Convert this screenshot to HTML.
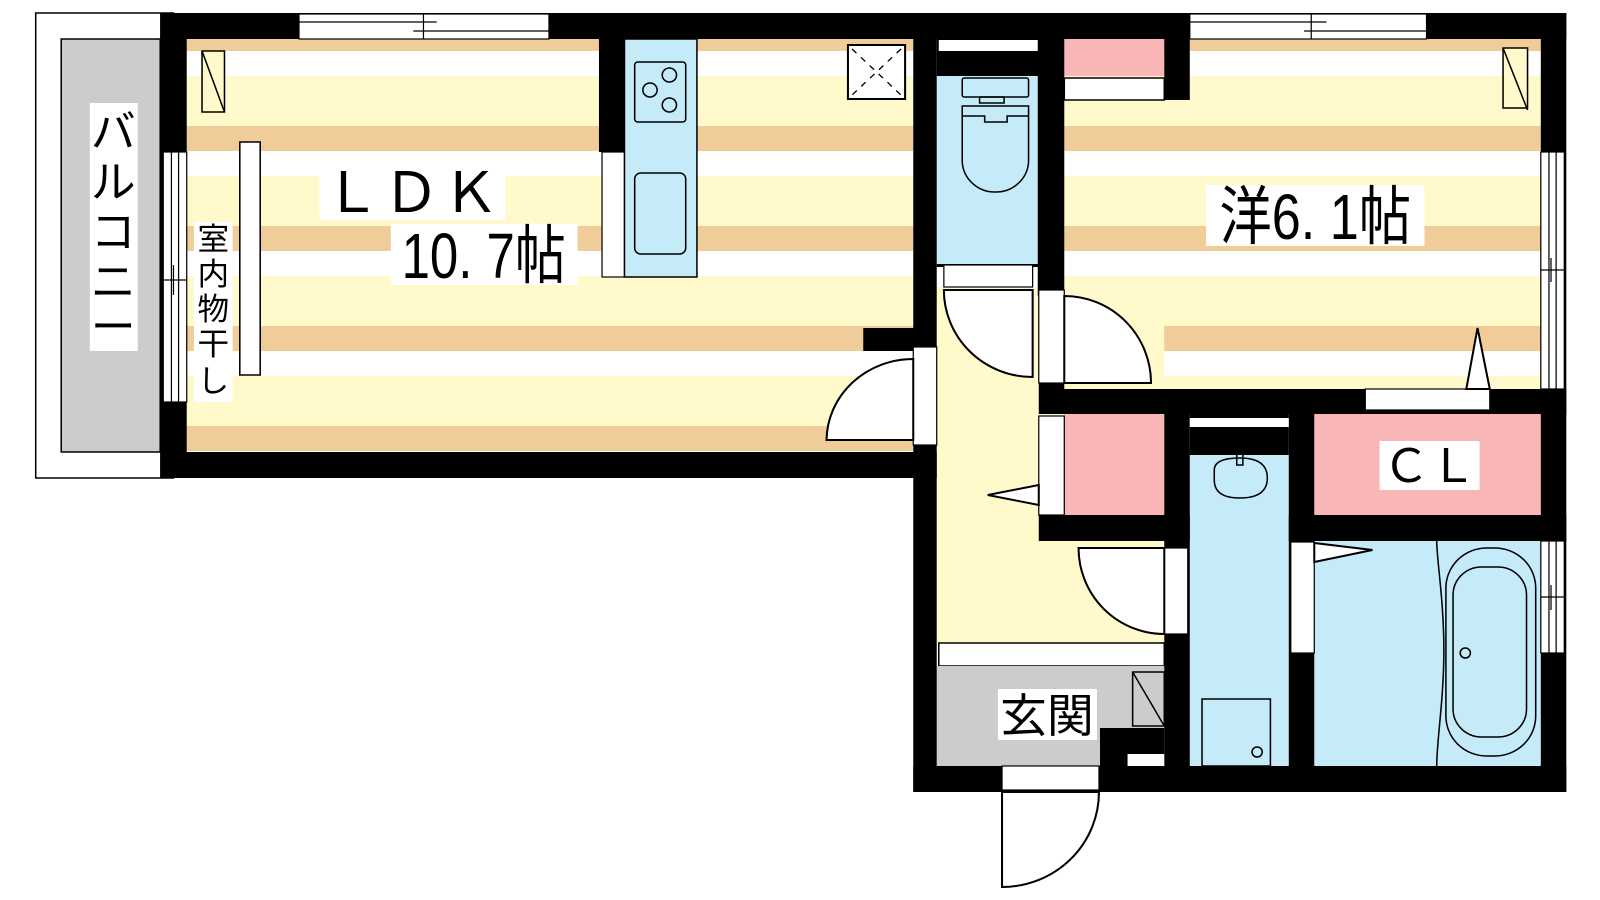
<!DOCTYPE html>
<html><head><meta charset="utf-8"><style>
html,body{margin:0;padding:0;background:#fff;width:1600px;height:900px;overflow:hidden}
svg{display:block}
text{font-family:"Liberation Sans","Noto Sans CJK JP",sans-serif;fill:#000}
</style></head><body>
<svg width="1600" height="900" viewBox="0 0 1600 900" xmlns="http://www.w3.org/2000/svg">
<defs>
<pattern id="st" patternUnits="userSpaceOnUse" x="0" y="26" width="10" height="100">
<rect x="0" y="0" width="10" height="25" fill="#f0cc98"/>
<rect x="0" y="25" width="10" height="25" fill="#ffffff"/>
<rect x="0" y="50" width="10" height="50" fill="#fff9cc"/>
</pattern>
</defs>
<g transform="scale(1.0204 1)" stroke-linejoin="miter">
<rect x="35" y="13" width="135" height="465" fill="#fff" stroke="#000" stroke-width="1.5"/>
<rect x="60" y="39" width="97" height="413" fill="#ccc" stroke="#000" stroke-width="1.5"/>
<rect x="88" y="103" width="47" height="248" fill="#fff"/>
<g font-size="44" text-anchor="middle">
<text x="111" y="147">バ</text>
<text x="111" y="197">ル</text>
<text x="111" y="247">コ</text>
<text x="111" y="297">ニ</text>
<text x="111" y="342">ー</text>
</g>

<rect x="183" y="39" width="712" height="413" fill="url(#st)"/>
<rect x="1043" y="39" width="467" height="350" fill="url(#st)"/>
<rect x="918" y="287" width="223" height="356" fill="#fff9cc"/>
<rect x="920" y="643" width="221" height="23" fill="#fff" stroke="#000" stroke-width="1.5"/>
<rect x="918" y="666" width="223" height="100" fill="#ccc"/>
<rect x="918" y="76" width="99" height="189" fill="#c5eaf8"/>
<rect x="1043" y="39" width="98" height="37" fill="#f9b6b6"/>
<rect x="1043" y="78" width="98" height="22" fill="#fff" stroke="#000" stroke-width="1.5"/>
<rect x="1043" y="414" width="98" height="101" fill="#f9b6b6"/>
<rect x="1288" y="414" width="222" height="101" fill="#f9b6b6"/>
<rect x="1166" y="426" width="97" height="340" fill="#c5eaf8"/>
<rect x="1288" y="541" width="222" height="225" fill="#c5eaf8"/>

<g fill="#000">
<rect x="157" y="13" width="1378" height="26"/>
<rect x="157" y="13" width="26" height="465"/>
<rect x="157" y="452" width="761" height="26"/>
<rect x="895" y="13" width="23" height="779"/>
<rect x="846" y="328" width="50" height="23"/>
<rect x="1017" y="13" width="26" height="283"/>
<rect x="1141" y="13" width="25" height="87"/>
<rect x="918" y="39" width="100" height="37"/>
<rect x="1510" y="13" width="25" height="779"/>
<rect x="1018" y="389" width="517" height="25"/>
<rect x="1018" y="383" width="25" height="6"/>
<rect x="1018" y="515" width="148" height="26"/>
<rect x="1263" y="515" width="272" height="26"/>
<rect x="1141" y="389" width="25" height="403"/>
<rect x="1263" y="389" width="25" height="403"/>
<rect x="1166" y="414" width="97" height="41"/>
<rect x="895" y="766" width="640" height="26"/>
<rect x="1078" y="728" width="63" height="64"/>
<rect x="587" y="39" width="25" height="113"/>
<rect x="918" y="264" width="100" height="3"/>
</g>
<g fill="#fff" stroke="#000" stroke-width="1.2">
<rect x="293" y="14" width="245" height="25"/>
<rect x="1166" y="14" width="232" height="25"/>
<rect x="920" y="40" width="97" height="11" stroke="none"/>
<rect x="160" y="152" width="23" height="250"/>
<rect x="1510" y="152" width="23" height="237"/>
<rect x="1510" y="541" width="23" height="112"/>
<rect x="895" y="347" width="23" height="98"/>
<rect x="925" y="265" width="87" height="22"/>
<rect x="1018" y="290" width="25" height="93"/>
<rect x="1338" y="389" width="122" height="21"/>
<rect x="1018" y="416" width="25" height="99"/>
<rect x="1166" y="418" width="97" height="9" stroke="none"/>
<rect x="1141" y="548" width="23" height="86"/>
<rect x="1265" y="542" width="23" height="111"/>
<rect x="982" y="766" width="95" height="24"/>
<rect x="1105" y="754" width="36" height="12" stroke="none"/>
<rect x="590" y="152" width="22" height="125"/>
</g>
<g stroke="#000" stroke-width="1.2" fill="none">
<line x1="293" y1="22" x2="428" y2="22"/><line x1="405" y1="31" x2="538" y2="31"/><line x1="415" y1="14" x2="415" y2="39"/>
<line x1="1166" y1="22" x2="1300" y2="22"/><line x1="1278" y1="31" x2="1398" y2="31"/><line x1="1285" y1="14" x2="1285" y2="39"/>
<line x1="168" y1="152" x2="168" y2="402"/><line x1="175" y1="152" x2="175" y2="402"/><line x1="160" y1="280" x2="183" y2="280"/><line x1="170" y1="265" x2="170" y2="295"/>
<line x1="1518" y1="152" x2="1518" y2="389"/><line x1="1525" y1="152" x2="1525" y2="389"/><line x1="1510" y1="270" x2="1533" y2="270"/><line x1="1520" y1="258" x2="1520" y2="282"/>
<line x1="1518" y1="541" x2="1518" y2="653"/><line x1="1525" y1="541" x2="1525" y2="653"/><line x1="1510" y1="597" x2="1533" y2="597"/><line x1="1520" y1="585" x2="1520" y2="610"/>
</g>
<rect x="612" y="39" width="71" height="238" fill="#c5eaf8" stroke="#000" stroke-width="1.5"/>
<rect x="622" y="62" width="50" height="60" rx="3" fill="none" stroke="#000" stroke-width="1.5"/>
<g fill="none" stroke="#000" stroke-width="1.5"><circle cx="656" cy="75" r="7"/><circle cx="637" cy="90" r="7"/><circle cx="656" cy="105" r="7"/></g>
<rect x="622" y="173" width="50" height="81" rx="6" fill="none" stroke="#000" stroke-width="1.5"/>
<rect x="831" y="45" width="56" height="54" fill="#fff" stroke="#000" stroke-width="2"/>
<g stroke="#000" stroke-width="1.3" stroke-dasharray="6,6"><line x1="835" y1="49" x2="883" y2="95"/><line x1="883" y1="49" x2="835" y2="95"/></g>
<g fill="#fff9cc" stroke="#000" stroke-width="1.5">
<rect x="198" y="51" width="22" height="61"/><line x1="198" y1="51" x2="220" y2="112"/>
<rect x="1473" y="48" width="24" height="60"/><line x1="1473" y1="48" x2="1497" y2="110"/>
<rect x="235" y="142" width="20" height="233" fill="#fff"/>
<rect x="1110" y="672" width="31" height="54" fill="#ccc"/><line x1="1110" y1="672" x2="1141" y2="726"/>
</g>
<g fill="#fff" stroke="#000" stroke-width="2">
<path d="M895 359 A85 82 0 0 0 810 440 L895 440 Z"/>
<path d="M925 290 A87 87 0 0 0 1012 377 L1012 290 Z"/>
<path d="M1043 296 A85 87 0 0 1 1128 383 L1043 383 Z"/>
<path d="M1057 548 A84 86 0 0 0 1141 634 L1141 548 Z"/>
<path d="M1077 792 A95 95 0 0 1 982 887 L982 792 Z"/>
<path d="M1018 485 L968 495 L1018 505 Z"/>
<path d="M1288 543 L1345 550 L1288 562 Z"/>
<path d="M1437 389 L1448 328 L1460 389 Z"/>
</g>
<g fill="none" stroke="#000" stroke-width="1.5">
<rect x="943" y="78" width="65" height="19" rx="2"/>
<rect x="960" y="97" width="24" height="6"/>
<path d="M943 106 L1008 106 L1008 162 A32 32 0 0 1 976 192 A32 32 0 0 1 943 162 Z"/>
<path d="M943 116 L965 116 L965 122 L987 122 L987 116 L1008 116"/>
<path d="M1190 470 Q1190 458 1215 458 Q1242 458 1242 478 Q1242 498 1215 498 Q1190 498 1190 480 Z"/>
<rect x="1212" y="449" width="6" height="16"/>
<rect x="1178" y="699" width="67" height="67"/>
<circle cx="1232" cy="752" r="5"/>
<path d="M1408 541 C1408 560 1415 600 1415 650 C1415 700 1408 740 1408 766"/>
<rect x="1417" y="548" width="88" height="208" rx="40"/>
<rect x="1424" y="567" width="72" height="170" rx="28"/>
<circle cx="1436" cy="653" r="5"/>
</g>
<rect x="313" y="166" width="182" height="54" fill="#fff"/>
<text x="404" y="212" font-size="56" text-anchor="middle" letter-spacing="2">ＬＤＫ</text>
<rect x="383" y="224" width="183" height="61" fill="#fff"/>
<text x="474" y="278" font-size="64" text-anchor="middle" transform="translate(474 0) scale(0.78 1) translate(-474 0)">10. 7帖</text>
<rect x="190" y="222" width="38" height="180" fill="#fff"/>
<g font-size="31" text-anchor="middle">
<text x="209" y="250">室</text><text x="209" y="285">内</text><text x="209" y="320">物</text><text x="209" y="355">干</text><text x="209" y="392">し</text>
</g>
<rect x="1182" y="185" width="214" height="61" fill="#fff"/>
<text x="1289" y="239" font-size="64" text-anchor="middle" transform="translate(1289 0) scale(0.8 1) translate(-1289 0)">洋6. 1帖</text>
<rect x="1352" y="441" width="98" height="49" fill="#fff"/>
<text x="1401" y="482" font-size="46" text-anchor="middle" letter-spacing="0">ＣＬ</text>
<rect x="978" y="689" width="97" height="51" fill="#fff"/>
<text x="1026" y="732" font-size="46" text-anchor="middle">玄関</text>
</g>
</svg>
</body></html>
